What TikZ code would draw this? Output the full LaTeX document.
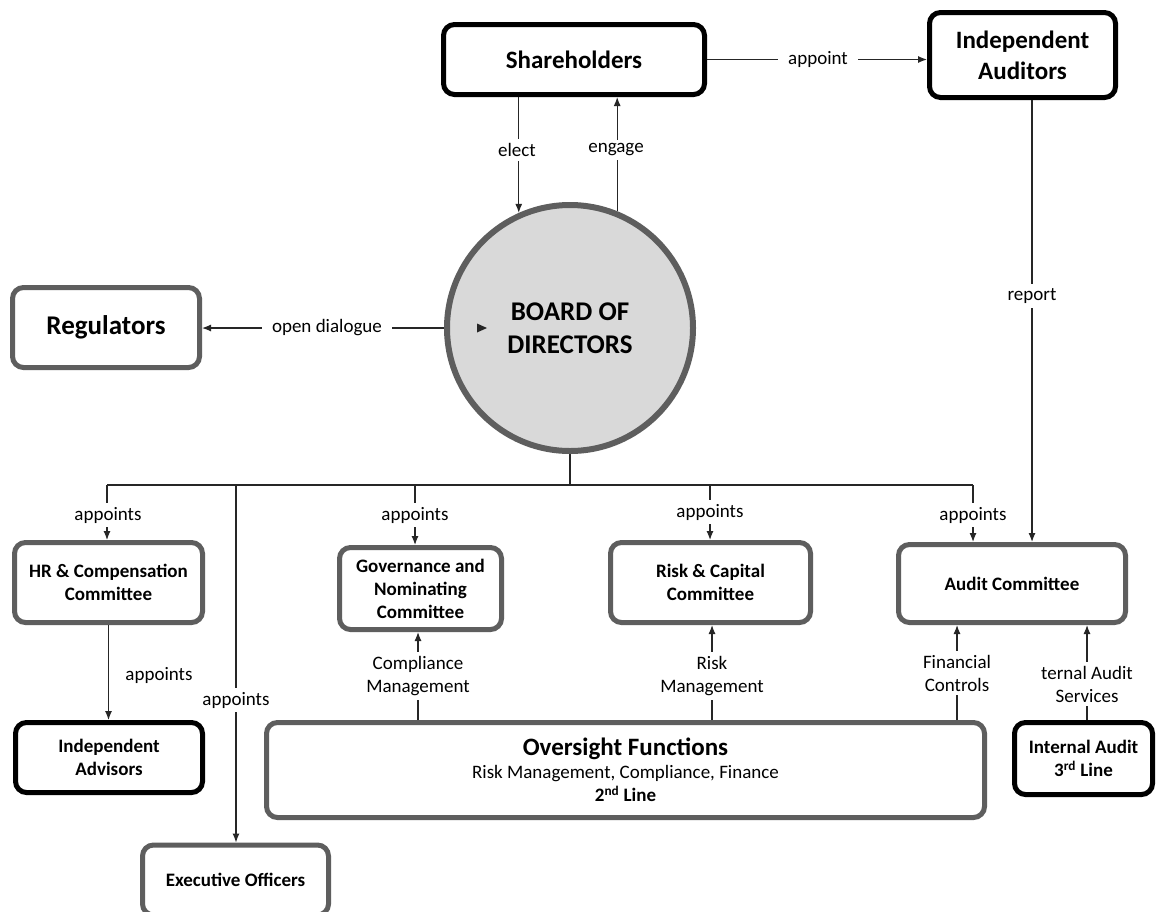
\documentclass[tikz,border=0pt]{standalone}
\usepackage{fontspec}
\setmainfont{Carlito}
\usetikzlibrary{arrows.meta,calc}
\definecolor{bgray}{HTML}{5E5E5E}
\definecolor{cfill}{HTML}{D9D9D9}
\definecolor{lcol}{HTML}{262626}
\begin{document}
\begin{tikzpicture}[x=1pt,y=-1pt,
  bx/.style={rounded corners=11pt, fill=white, align=center, inner sep=2pt, line width=5pt,
    font=\bfseries\fontsize{19}{23}\selectfont},
  bbox/.style={bx, draw=black},
  gbox/.style={bx, draw=bgray},
  big/.style={font=\bfseries\fontsize{25}{31}\selectfont},
  lbl/.style={fill=white, inner xsep=10pt, inner ysep=4pt, align=center, font=\fontsize{19}{23}\selectfont},
  conn/.style={draw=lcol, line width=1.2pt},
  arr/.style={conn, -{Latex[length=9pt,width=7pt]}}]
\clip (0,0) rectangle (1157,911);
\useasboundingbox (0,0) rectangle (1157,911);
\fill[white] (0,0) rectangle (1157,911);

% coordinates
\coordinate (busL) at (107,485);
\coordinate (busR) at (973,485);
\coordinate (bGov) at (415,485);
\coordinate (bRisk) at (710,485);
\coordinate (bExec) at (236,485);
\coordinate (xc) at (418,0);
\coordinate (xr) at (712,0);
\coordinate (xf) at (957,0);
\coordinate (xi) at (1087,0);
\coordinate (xrep) at (1032,0);

% connectors drawn first (under nodes)
\draw[conn] (busL) -- (busR);
\draw[conn] (570,454) -- (570,485);

% nodes
\node[bbox,big,minimum width=261pt,minimum height=70pt] (sh) at (574,59.5) {Shareholders};
\node[bbox,big,minimum width=186pt,minimum height=85pt] (aud) at (1022.5,55) {Independent\\Auditors};
\node[gbox,minimum width=187pt,minimum height=80pt,font=\bfseries\fontsize{27}{31}\selectfont] (reg) at (106,327.5) {Regulators};
\node[circle, draw=bgray, line width=6pt, fill=cfill, minimum size=246pt, inner sep=0pt, align=center,
  font=\bfseries\fontsize{27}{33}\selectfont] (board) at (570,328) {BOARD OF\\DIRECTORS};
\node[gbox,minimum width=188pt,minimum height=80pt] (hr) at (108.5,582.5) {HR \& Compensation\\Committee};
\node[gbox,minimum width=162pt,minimum height=82pt] (gov) at (420.5,588.5) {Governance and\\Nominating\\Committee};
\node[gbox,minimum width=200pt,minimum height=80pt] (risk) at (710.5,582.5) {Risk \& Capital\\Committee};
\node[gbox,minimum width=227pt,minimum height=78pt] (audc) at (1012,583.5) {Audit Committee};
\node[bbox,minimum width=187pt,minimum height=70pt] (adv) at (109,757.5) {Independent\\Advisors};
\node[gbox,minimum width=718pt,minimum height=95pt,font=\fontsize{19}{23}\selectfont] (ovs) at (625.5,770)
  {{\bfseries\fontsize{25}{27}\selectfont Oversight Functions}\\Risk Management, Compliance, Finance\\\textbf{2\textsuperscript{nd} Line}};
\node[bbox,minimum width=138pt,minimum height=72pt] (ia) at (1083.5,758.5) {Internal Audit\\3\textsuperscript{rd} Line};
\node[gbox,minimum width=186pt,minimum height=70pt] (exec) at (235.5,880) {Executive Officers};

% top connectors
\draw[arr] (sh.east) -- (aud.west |- sh.east);
\node[lbl] (lapp) at (818,59.5) {appoint};
\draw[arr] (sh.south -| board.114.9) -- (board.114.9);
\draw[arr] (board.68.6) -- (board.68.6 |- sh.south);
\node[lbl] (lel) at (517,150) {elect};
\node[lbl] (leng) at (616,150) {engage};

% regulators
\draw[arr] (board.west) -- (reg.east |- board.west);
\node[lbl] (lod) at (327,328) {open dialogue};
\fill[lcol] (477,323.5) -- (487,328) -- (477,332.5) -- cycle;

% report
\draw[arr] (aud.south -| xrep) -- (audc.north -| xrep);
\node[lbl] (lrep) at (1032,296) {report};

% board appoints
\draw[arr] (busL) -- (hr.north -| busL);
\node[lbl] at (108,515) {appoints};
\draw[arr] (bGov) -- (gov.north -| bGov);
\node[lbl] at (415,515) {appoints};
\draw[arr] (bRisk) -- (risk.north -| bRisk);
\node[lbl] at (710,512) {appoints};
\draw[arr] (busR) -- (audc.north -| busR);
\node[lbl] at (973,515) {appoints};
\draw[arr] (bExec) -- (exec.north -| bExec);
\node[lbl] at (236,700) {appoints};

% HR -> advisors
\draw[arr] (hr.south) -- (adv.north -| hr.south);
\node[lbl] at (159,675) {appoints};

% oversight up
\draw[arr] (ovs.north -| xc) -- (gov.south -| xc);
\node[lbl] at (418,676) {Compliance\\Management};
\draw[arr] (ovs.north -| xr) -- (risk.south -| xr);
\node[lbl] at (712,676) {Risk\\Management};
\draw[arr] (ovs.north -| xf) -- (audc.south -| xf);
\node[lbl] at (957,673) {Financial\\Controls};
\draw[arr] (ia.north -| xi) -- (audc.south -| xi);
\node[lbl] at (1087,684) {ternal Audit\\Services};
\end{tikzpicture}
\end{document}
